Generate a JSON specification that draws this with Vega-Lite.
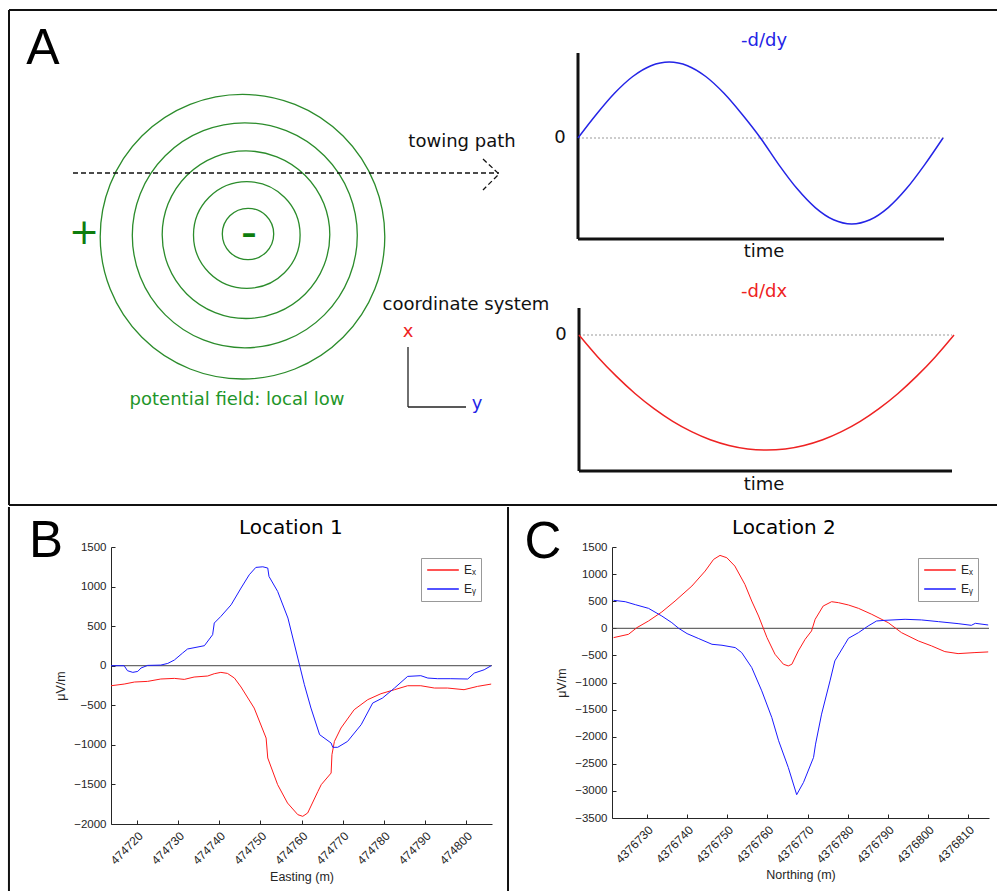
{
  "$schema": "https://vega.github.io/schema/vega-lite/v6.json",
  "padding": {"left": 7, "top": 9, "right": 0, "bottom": 0},
  "background": "white",
  "config": {
    "view": {"stroke": null},
    "font": "Liberation Sans",
    "axis": {"domainColor": "#262626", "tickColor": "#262626", "labelColor": "#262626", "titleColor": "#262626", "labelFont": "Liberation Sans", "titleFont": "Liberation Sans", "labelFontSize": 11.5, "titleFontSize": 12.5, "titleFontWeight": "normal", "grid": false, "labelOverlap": false},
    "legend": {"title": null, "orient": "top-right", "offset": 11, "strokeColor": "#999", "fillColor": "white", "padding": 5, "clipHeight": 14, "symbolSize": 1000, "labelFont": "Liberation Sans", "labelFontSize": 12, "labelColor": "#262626", "rowPadding": 5}
  },
  "datasets": {
    "aFrame": [{"x": 8, "y": 10, "x2": 997, "y2": 10}, {"x": 8, "y": 10, "x2": 8, "y2": 505}, {"x": 8, "y": 505, "x2": 997, "y2": 505}],
    "aAxes": [{"x": 577, "y": 53, "x2": 577, "y2": 239}, {"x": 577, "y": 239, "x2": 943, "y2": 239}, {"x": 578, "y": 308, "x2": 578, "y2": 471}, {"x": 578, "y": 471, "x2": 951, "y2": 471}],
    "aCoord": [{"x": 407, "y": 347, "x2": 407, "y2": 407}, {"x": 407, "y": 407, "x2": 465, "y2": 407}],
    "aZero": [{"x": 577, "y": 138, "x2": 943, "y2": 138}, {"x": 578, "y": 335, "x2": 951, "y2": 335}],
    "aPath": [{"x": 72, "y": 173, "p": "shaft", "o": 1}, {"x": 498, "y": 173, "p": "shaft", "o": 2}, {"x": 482, "y": 159, "p": "head", "o": 1}, {"x": 498, "y": 174, "p": "head", "o": 2}, {"x": 482, "y": 190, "p": "head", "o": 3}],
    "aCircles": [{"x": 247, "y": 234, "r": 25.7}, {"x": 245.8, "y": 235, "r": 53.3}, {"x": 245, "y": 234.7, "r": 83.8}, {"x": 243.8, "y": 235.3, "r": 112.5}, {"x": 241.5, "y": 236.7, "r": 142.3}],
    "aCurves": [
      {"x": 577, "y": 138, "curve": "-d/dy"}, {"x": 595.25, "y": 114.5, "curve": "-d/dy"}, {"x": 613.5, "y": 93.3, "curve": "-d/dy"}, {"x": 631.75, "y": 76.5, "curve": "-d/dy"}, {"x": 650, "y": 65.7, "curve": "-d/dy"}, {"x": 668.25, "y": 62, "curve": "-d/dy"}, {"x": 686.5, "y": 65.7, "curve": "-d/dy"}, {"x": 704.75, "y": 76.5, "curve": "-d/dy"}, {"x": 723, "y": 93.3, "curve": "-d/dy"}, {"x": 741.25, "y": 114.5, "curve": "-d/dy"}, {"x": 759.5, "y": 138, "curve": "-d/dy"}, {"x": 777.75, "y": 164.6, "curve": "-d/dy"}, {"x": 796, "y": 188.6, "curve": "-d/dy"}, {"x": 814.25, "y": 207.6, "curve": "-d/dy"}, {"x": 832.5, "y": 219.8, "curve": "-d/dy"}, {"x": 850.75, "y": 224, "curve": "-d/dy"}, {"x": 869, "y": 219.8, "curve": "-d/dy"}, {"x": 887.25, "y": 207.6, "curve": "-d/dy"}, {"x": 905.5, "y": 188.6, "curve": "-d/dy"}, {"x": 923.75, "y": 164.6, "curve": "-d/dy"}, {"x": 942, "y": 138, "curve": "-d/dy"},
      {"x": 578, "y": 335, "curve": "-d/dx"}, {"x": 596.75, "y": 356.9, "curve": "-d/dx"}, {"x": 615.5, "y": 376.4, "curve": "-d/dx"}, {"x": 634.25, "y": 393.7, "curve": "-d/dx"}, {"x": 653, "y": 408.6, "curve": "-d/dx"}, {"x": 671.75, "y": 421.3, "curve": "-d/dx"}, {"x": 690.5, "y": 431.6, "curve": "-d/dx"}, {"x": 709.25, "y": 439.7, "curve": "-d/dx"}, {"x": 728, "y": 445.4, "curve": "-d/dx"}, {"x": 746.75, "y": 448.9, "curve": "-d/dx"}, {"x": 765.5, "y": 450, "curve": "-d/dx"}, {"x": 784.25, "y": 448.9, "curve": "-d/dx"}, {"x": 803, "y": 445.4, "curve": "-d/dx"}, {"x": 821.75, "y": 439.7, "curve": "-d/dx"}, {"x": 840.5, "y": 431.6, "curve": "-d/dx"}, {"x": 859.25, "y": 421.3, "curve": "-d/dx"}, {"x": 878, "y": 408.6, "curve": "-d/dx"}, {"x": 896.75, "y": 393.7, "curve": "-d/dx"}, {"x": 915.5, "y": 376.4, "curve": "-d/dx"}, {"x": 934.25, "y": 356.9, "curve": "-d/dx"}, {"x": 953, "y": 335, "curve": "-d/dx"}
    ],
    "aTextBlack": [{"x": 461, "y": 142, "t": "towing path"}, {"x": 465, "y": 305, "t": "coordinate system"}, {"x": 559, "y": 138, "t": "0"}, {"x": 560, "y": 335, "t": "0"}, {"x": 763, "y": 252, "t": "time"}, {"x": 763, "y": 485, "t": "time"}],
    "aTextBlue": [{"x": 763, "y": 41, "t": "-d/dy"}, {"x": 476, "y": 404, "t": "y"}],
    "aTextRed": [{"x": 763, "y": 292, "t": "-d/dx"}, {"x": 407, "y": 332, "t": "x"}],
    "aTextGreen": [{"x": 236, "y": 400, "t": "potential field: local low"}],
    "aPlus": [{"x": 83, "y": 233, "t": "+"}],
    "aMinus": [{"x": 248, "y": 234, "t": "\u2013"}],
    "aLetter": [{"x": 42, "y": 49, "t": "A"}],
    "bFrame": [{"x": 474688.9, "v": 2005, "v2": -2846}],
    "bZero": [{"x": 474713.7, "x2": 474806.3, "v": 0}],
    "bLetter": [{"x": 474697.9, "v": 1563, "t": "B"}],
    "bTitle": [{"x": 474757.4, "v": 1740, "t": "Location 1"}],
    "bLines": [
      {"x": 474713.7, "v": -253, "s": "E\u2093"}, {"x": 474716.9, "v": -232, "s": "E\u2093"}, {"x": 474719.4, "v": -206, "s": "E\u2093"}, {"x": 474722.6, "v": -198, "s": "E\u2093"}, {"x": 474725.8, "v": -168, "s": "E\u2093"}, {"x": 474729.1, "v": -160, "s": "E\u2093"}, {"x": 474731.5, "v": -173, "s": "E\u2093"}, {"x": 474733.9, "v": -143, "s": "E\u2093"}, {"x": 474737.2, "v": -130, "s": "E\u2093"}, {"x": 474738.8, "v": -101, "s": "E\u2093"}, {"x": 474740.4, "v": -84, "s": "E\u2093"}, {"x": 474742.0, "v": -97, "s": "E\u2093"}, {"x": 474743.7, "v": -156, "s": "E\u2093"}, {"x": 474745.3, "v": -269, "s": "E\u2093"}, {"x": 474748.5, "v": -535, "s": "E\u2093"}, {"x": 474751.4, "v": -914, "s": "E\u2093"}, {"x": 474751.8, "v": -1166, "s": "E\u2093"}, {"x": 474754.2, "v": -1503, "s": "E\u2093"}, {"x": 474756.6, "v": -1735, "s": "E\u2093"}, {"x": 474759.1, "v": -1882, "s": "E\u2093"}, {"x": 474760.3, "v": -1903, "s": "E\u2093"}, {"x": 474761.5, "v": -1861, "s": "E\u2093"}, {"x": 474764.0, "v": -1587, "s": "E\u2093"}, {"x": 474764.8, "v": -1503, "s": "E\u2093"}, {"x": 474767.2, "v": -1356, "s": "E\u2093"}, {"x": 474767.4, "v": -1124, "s": "E\u2093"}, {"x": 474768.0, "v": -956, "s": "E\u2093"}, {"x": 474769.6, "v": -787, "s": "E\u2093"}, {"x": 474772.8, "v": -556, "s": "E\u2093"}, {"x": 474776.1, "v": -429, "s": "E\u2093"}, {"x": 474779.3, "v": -354, "s": "E\u2093"}, {"x": 474782.6, "v": -303, "s": "E\u2093"}, {"x": 474785.8, "v": -253, "s": "E\u2093"}, {"x": 474789.0, "v": -253, "s": "E\u2093"}, {"x": 474792.3, "v": -282, "s": "E\u2093"}, {"x": 474795.5, "v": -282, "s": "E\u2093"}, {"x": 474799.5, "v": -303, "s": "E\u2093"}, {"x": 474802.8, "v": -261, "s": "E\u2093"}, {"x": 474806.1, "v": -232, "s": "E\u2093"},
      {"x": 474713.7, "v": 0, "s": "E\u1d67"}, {"x": 474716.9, "v": 0, "s": "E\u1d67"}, {"x": 474717.7, "v": -63, "s": "E\u1d67"}, {"x": 474719.0, "v": -84, "s": "E\u1d67"}, {"x": 474720.2, "v": -72, "s": "E\u1d67"}, {"x": 474721.0, "v": -29, "s": "E\u1d67"}, {"x": 474722.6, "v": 4, "s": "E\u1d67"}, {"x": 474725.8, "v": 8, "s": "E\u1d67"}, {"x": 474727.5, "v": 29, "s": "E\u1d67"}, {"x": 474729.1, "v": 72, "s": "E\u1d67"}, {"x": 474731.1, "v": 160, "s": "E\u1d67"}, {"x": 474732.3, "v": 211, "s": "E\u1d67"}, {"x": 474736.4, "v": 253, "s": "E\u1d67"}, {"x": 474738.4, "v": 392, "s": "E\u1d67"}, {"x": 474738.8, "v": 539, "s": "E\u1d67"}, {"x": 474740.4, "v": 623, "s": "E\u1d67"}, {"x": 474742.9, "v": 770, "s": "E\u1d67"}, {"x": 474745.3, "v": 981, "s": "E\u1d67"}, {"x": 474747.3, "v": 1149, "s": "E\u1d67"}, {"x": 474748.9, "v": 1242, "s": "E\u1d67"}, {"x": 474750.6, "v": 1250, "s": "E\u1d67"}, {"x": 474751.8, "v": 1234, "s": "E\u1d67"}, {"x": 474752.1, "v": 1128, "s": "E\u1d67"}, {"x": 474754.2, "v": 939, "s": "E\u1d67"}, {"x": 474756.7, "v": 602, "s": "E\u1d67"}, {"x": 474759.1, "v": 97, "s": "E\u1d67"}, {"x": 474760.7, "v": -240, "s": "E\u1d67"}, {"x": 474762.3, "v": -535, "s": "E\u1d67"}, {"x": 474764.4, "v": -871, "s": "E\u1d67"}, {"x": 474767.2, "v": -977, "s": "E\u1d67"}, {"x": 474767.6, "v": -1031, "s": "E\u1d67"}, {"x": 474768.8, "v": -1031, "s": "E\u1d67"}, {"x": 474771.2, "v": -956, "s": "E\u1d67"}, {"x": 474774.5, "v": -745, "s": "E\u1d67"}, {"x": 474777.3, "v": -472, "s": "E\u1d67"}, {"x": 474779.7, "v": -408, "s": "E\u1d67"}, {"x": 474782.6, "v": -282, "s": "E\u1d67"}, {"x": 474785.8, "v": -135, "s": "E\u1d67"}, {"x": 474789.0, "v": -126, "s": "E\u1d67"}, {"x": 474790.7, "v": -156, "s": "E\u1d67"}, {"x": 474793.1, "v": -164, "s": "E\u1d67"}, {"x": 474796.3, "v": -164, "s": "E\u1d67"}, {"x": 474800.4, "v": -168, "s": "E\u1d67"}, {"x": 474802.0, "v": -93, "s": "E\u1d67"}, {"x": 474804.4, "v": -51, "s": "E\u1d67"}, {"x": 474806.1, "v": 0, "s": "E\u1d67"}
    ],
    "cFrame": [{"x": 4376695.4, "v": 2238, "v2": -4847}],
    "cZero": [{"x": 4376721.3, "x2": 4376815.2, "v": 0}],
    "cLetter": [{"x": 4376704.1, "v": 1574, "t": "C"}],
    "cTitle": [{"x": 4376764.1, "v": 1850, "t": "Location 2"}],
    "cLines": [
      {"x": 4376721.7, "v": -172, "s": "E\u2093"}, {"x": 4376725.4, "v": -111, "s": "E\u2093"}, {"x": 4376727.5, "v": 12, "s": "E\u2093"}, {"x": 4376730.4, "v": 135, "s": "E\u2093"}, {"x": 4376733.7, "v": 301, "s": "E\u2093"}, {"x": 4376737.0, "v": 503, "s": "E\u2093"}, {"x": 4376741.2, "v": 780, "s": "E\u2093"}, {"x": 4376744.5, "v": 1056, "s": "E\u2093"}, {"x": 4376746.6, "v": 1271, "s": "E\u2093"}, {"x": 4376748.2, "v": 1345, "s": "E\u2093"}, {"x": 4376749.9, "v": 1302, "s": "E\u2093"}, {"x": 4376751.9, "v": 1148, "s": "E\u2093"}, {"x": 4376754.4, "v": 810, "s": "E\u2093"}, {"x": 4376756.1, "v": 503, "s": "E\u2093"}, {"x": 4376757.8, "v": 227, "s": "E\u2093"}, {"x": 4376759.9, "v": -172, "s": "E\u2093"}, {"x": 4376761.9, "v": -479, "s": "E\u2093"}, {"x": 4376764.0, "v": -663, "s": "E\u2093"}, {"x": 4376765.2, "v": -694, "s": "E\u2093"}, {"x": 4376766.1, "v": -663, "s": "E\u2093"}, {"x": 4376767.7, "v": -418, "s": "E\u2093"}, {"x": 4376769.4, "v": -203, "s": "E\u2093"}, {"x": 4376771.0, "v": -49, "s": "E\u2093"}, {"x": 4376771.9, "v": 166, "s": "E\u2093"}, {"x": 4376773.9, "v": 411, "s": "E\u2093"}, {"x": 4376776.0, "v": 491, "s": "E\u2093"}, {"x": 4376777.7, "v": 473, "s": "E\u2093"}, {"x": 4376780.2, "v": 430, "s": "E\u2093"}, {"x": 4376782.7, "v": 368, "s": "E\u2093"}, {"x": 4376786.0, "v": 258, "s": "E\u2093"}, {"x": 4376790.1, "v": 104, "s": "E\u2093"}, {"x": 4376793.4, "v": -80, "s": "E\u2093"}, {"x": 4376797.6, "v": -233, "s": "E\u2093"}, {"x": 4376800.9, "v": -325, "s": "E\u2093"}, {"x": 4376804.2, "v": -430, "s": "E\u2093"}, {"x": 4376807.5, "v": -467, "s": "E\u2093"}, {"x": 4376811.7, "v": -448, "s": "E\u2093"}, {"x": 4376815.0, "v": -436, "s": "E\u2093"},
      {"x": 4376721.7, "v": 516, "s": "E\u1d67"}, {"x": 4376724.6, "v": 491, "s": "E\u1d67"}, {"x": 4376727.1, "v": 436, "s": "E\u1d67"}, {"x": 4376730.4, "v": 368, "s": "E\u1d67"}, {"x": 4376733.7, "v": 227, "s": "E\u1d67"}, {"x": 4376736.2, "v": 104, "s": "E\u1d67"}, {"x": 4376737.9, "v": 0, "s": "E\u1d67"}, {"x": 4376740.0, "v": -98, "s": "E\u1d67"}, {"x": 4376742.9, "v": -190, "s": "E\u1d67"}, {"x": 4376746.2, "v": -295, "s": "E\u1d67"}, {"x": 4376748.7, "v": -313, "s": "E\u1d67"}, {"x": 4376752.0, "v": -356, "s": "E\u1d67"}, {"x": 4376753.6, "v": -448, "s": "E\u1d67"}, {"x": 4376756.1, "v": -724, "s": "E\u1d67"}, {"x": 4376758.6, "v": -1154, "s": "E\u1d67"}, {"x": 4376761.1, "v": -1646, "s": "E\u1d67"}, {"x": 4376762.8, "v": -2075, "s": "E\u1d67"}, {"x": 4376765.2, "v": -2566, "s": "E\u1d67"}, {"x": 4376767.3, "v": -3070, "s": "E\u1d67"}, {"x": 4376769.0, "v": -2843, "s": "E\u1d67"}, {"x": 4376771.5, "v": -2382, "s": "E\u1d67"}, {"x": 4376772.0, "v": -2137, "s": "E\u1d67"}, {"x": 4376773.5, "v": -1584, "s": "E\u1d67"}, {"x": 4376775.6, "v": -970, "s": "E\u1d67"}, {"x": 4376776.8, "v": -602, "s": "E\u1d67"}, {"x": 4376779.3, "v": -295, "s": "E\u1d67"}, {"x": 4376780.2, "v": -184, "s": "E\u1d67"}, {"x": 4376782.7, "v": -80, "s": "E\u1d67"}, {"x": 4376785.1, "v": 43, "s": "E\u1d67"}, {"x": 4376787.2, "v": 135, "s": "E\u1d67"}, {"x": 4376789.3, "v": 147, "s": "E\u1d67"}, {"x": 4376794.3, "v": 166, "s": "E\u1d67"}, {"x": 4376798.4, "v": 154, "s": "E\u1d67"}, {"x": 4376802.6, "v": 123, "s": "E\u1d67"}, {"x": 4376807.5, "v": 86, "s": "E\u1d67"}, {"x": 4376810.8, "v": 55, "s": "E\u1d67"}, {"x": 4376811.8, "v": 92, "s": "E\u1d67"}, {"x": 4376815.0, "v": 61, "s": "E\u1d67"}
    ]
  },
  "spacing": 0,
  "columns": 1,
  "align": "none",
  "resolve": {"scale": {"color": "independent", "size": "independent"}, "legend": {"color": "independent", "size": "independent"}},
  "concat": [
    {
      "width": 887,
      "height": 495,
      "encoding": {
        "x": {"field": "x", "type": "quantitative", "scale": {"domain": [110, 997], "nice": false, "zero": false}, "axis": null},
        "y": {"field": "y", "type": "quantitative", "scale": {"domain": [10, 505], "nice": false, "zero": false, "reverse": true}, "axis": null}
      },
      "layer": [
        {"data": {"name": "aFrame"}, "mark": {"type": "rule", "color": "#111", "strokeWidth": 2}, "encoding": {"x2": {"field": "x2"}, "y2": {"field": "y2"}}},
        {"data": {"name": "aCircles"}, "mark": {"type": "point", "shape": "circle", "filled": false, "stroke": "#2b8c2b", "strokeWidth": 1.3, "opacity": 1}, "encoding": {"size": {"field": "r", "type": "quantitative", "scale": {"type": "pow", "exponent": 2, "domain": [0, 150], "range": [0, 90000], "zero": true}, "legend": null}}},
        {"data": {"name": "aPath"}, "mark": {"type": "line", "color": "#111", "strokeWidth": 1.3, "strokeDash": [5, 3]}, "encoding": {"detail": {"field": "p"}, "order": {"field": "o", "type": "quantitative"}}},
        {"data": {"name": "aZero"}, "mark": {"type": "rule", "color": "#999", "strokeWidth": 1, "strokeDash": [2, 2]}, "encoding": {"x2": {"field": "x2"}, "y2": {"field": "y2"}}},
        {"data": {"name": "aAxes"}, "mark": {"type": "rule", "color": "#111", "strokeWidth": 3}, "encoding": {"x2": {"field": "x2"}, "y2": {"field": "y2"}}},
        {"data": {"name": "aCoord"}, "mark": {"type": "rule", "color": "#222", "strokeWidth": 1.3}, "encoding": {"x2": {"field": "x2"}, "y2": {"field": "y2"}}},
        {"data": {"name": "aCurves"}, "mark": {"type": "line", "strokeWidth": 1.5, "interpolate": "monotone"}, "encoding": {"color": {"field": "curve", "type": "nominal", "scale": {"domain": ["-d/dy", "-d/dx"], "range": ["#2424e6", "#ee2222"]}, "legend": null}}},
        {"data": {"name": "aTextBlack"}, "mark": {"type": "text", "font": "DejaVu Sans", "fontSize": 18, "color": "#111", "align": "center", "baseline": "middle"}, "encoding": {"text": {"field": "t"}}},
        {"data": {"name": "aTextBlue"}, "mark": {"type": "text", "font": "DejaVu Sans", "fontSize": 18, "color": "#2424e6", "align": "center", "baseline": "middle"}, "encoding": {"text": {"field": "t"}}},
        {"data": {"name": "aTextRed"}, "mark": {"type": "text", "font": "DejaVu Sans", "fontSize": 18, "color": "#ee2222", "align": "center", "baseline": "middle"}, "encoding": {"text": {"field": "t"}}},
        {"data": {"name": "aTextGreen"}, "mark": {"type": "text", "font": "DejaVu Sans", "fontSize": 18, "color": "#1f962a", "align": "center", "baseline": "middle"}, "encoding": {"text": {"field": "t"}}},
        {"data": {"name": "aPlus"}, "mark": {"type": "text", "font": "DejaVu Sans", "fontSize": 36, "color": "#0e7d0e", "align": "center", "baseline": "middle"}, "encoding": {"text": {"field": "t"}}},
        {"data": {"name": "aMinus"}, "mark": {"type": "text", "font": "DejaVu Sans", "fontSize": 30, "fontWeight": "bold", "color": "#0e7d0e", "align": "center", "baseline": "middle"}, "encoding": {"text": {"field": "t"}}},
        {"data": {"name": "aLetter"}, "mark": {"type": "text", "font": "Liberation Sans", "fontSize": 50, "color": "#000", "align": "center", "baseline": "middle"}, "encoding": {"text": {"field": "t"}}}
      ]
    },
    {
      "spacing": 13,
      "resolve": {"scale": {"color": "independent"}, "legend": {"color": "independent"}},
      "hconcat": [
        {
          "width": 381,
          "height": 277,
          "encoding": {
            "x": {"field": "x", "type": "quantitative", "scale": {"domain": [474713.7, 474806.3], "nice": false, "zero": false}, "axis": {"values": [474720, 474730, 474740, 474750, 474760, 474770, 474780, 474790, 474800], "format": "d", "labelAngle": -45, "labelFontSize": 12, "tickSize": -4, "labelPadding": 10, "title": "Easting (m)", "titlePadding": 4}},
            "y": {"field": "v", "type": "quantitative", "scale": {"domain": [-2000, 1500], "nice": false, "zero": false}, "axis": {"values": [-2000, -1500, -1000, -500, 0, 500, 1000, 1500], "format": "d", "tickSize": -4, "labelPadding": 9, "title": "\u03bcV/m", "titlePadding": 6}}
          },
          "layer": [
            {"data": {"name": "bFrame"}, "mark": {"type": "rule", "color": "#111", "strokeWidth": 2}, "encoding": {"y2": {"field": "v2"}}},
            {"data": {"name": "bZero"}, "mark": {"type": "rule", "color": "#444", "strokeWidth": 1}, "encoding": {"x2": {"field": "x2"}}},
            {"data": {"name": "bLines"}, "mark": {"type": "line", "strokeWidth": 1}, "encoding": {"color": {"field": "s", "type": "nominal", "scale": {"domain": ["E\u2093", "E\u1d67"], "range": ["#ff1a1a", "#1a1aff"]}}}},
            {"data": {"name": "bLetter"}, "mark": {"type": "text", "font": "Liberation Sans", "fontSize": 51, "color": "#000", "align": "center", "baseline": "middle"}, "encoding": {"text": {"field": "t"}}},
            {"data": {"name": "bTitle"}, "mark": {"type": "text", "font": "DejaVu Sans", "fontSize": 20, "color": "#000", "align": "center", "baseline": "middle"}, "encoding": {"text": {"field": "t"}}}
          ]
        },
        {
          "width": 377,
          "height": 271,
          "encoding": {
            "x": {"field": "x", "type": "quantitative", "scale": {"domain": [4376721.3, 4376815.2], "nice": false, "zero": false}, "axis": {"values": [4376730, 4376740, 4376750, 4376760, 4376770, 4376780, 4376790, 4376800, 4376810], "format": "d", "labelAngle": -45, "labelFontSize": 12, "tickSize": -4, "labelPadding": 10, "title": "Northing (m)", "titlePadding": 4}},
            "y": {"field": "v", "type": "quantitative", "scale": {"domain": [-3500, 1500], "nice": false, "zero": false}, "axis": {"values": [-3500, -3000, -2500, -2000, -1500, -1000, -500, 0, 500, 1000, 1500], "format": "d", "tickSize": -4, "labelPadding": 9, "title": "\u03bcV/m", "titlePadding": 6}}
          },
          "layer": [
            {"data": {"name": "cFrame"}, "mark": {"type": "rule", "color": "#111", "strokeWidth": 2}, "encoding": {"y2": {"field": "v2"}}},
            {"data": {"name": "cZero"}, "mark": {"type": "rule", "color": "#444", "strokeWidth": 1}, "encoding": {"x2": {"field": "x2"}}},
            {"data": {"name": "cLines"}, "mark": {"type": "line", "strokeWidth": 1}, "encoding": {"color": {"field": "s", "type": "nominal", "scale": {"domain": ["E\u2093", "E\u1d67"], "range": ["#ff1a1a", "#1a1aff"]}}}},
            {"data": {"name": "cLetter"}, "mark": {"type": "text", "font": "Liberation Sans", "fontSize": 51, "color": "#000", "align": "center", "baseline": "middle"}, "encoding": {"text": {"field": "t"}}},
            {"data": {"name": "cTitle"}, "mark": {"type": "text", "font": "DejaVu Sans", "fontSize": 20, "color": "#000", "align": "center", "baseline": "middle"}, "encoding": {"text": {"field": "t"}}}
          ]
        }
      ]
    }
  ]
}
